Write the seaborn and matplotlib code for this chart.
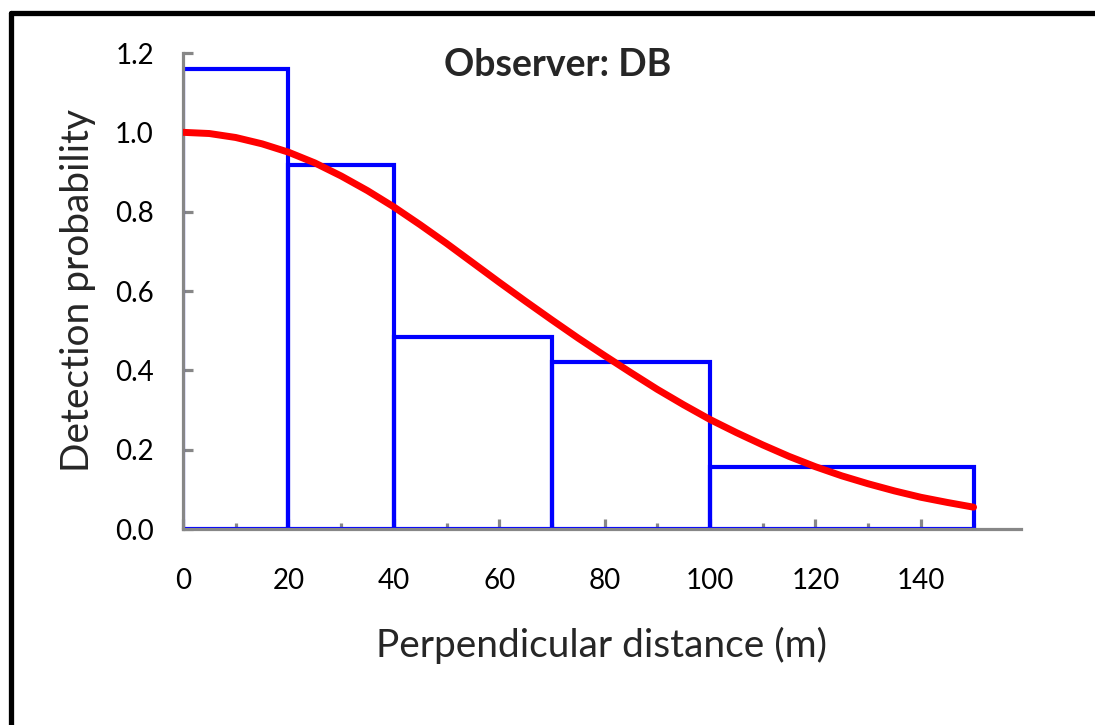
import matplotlib
matplotlib.use("Agg")
import matplotlib.pyplot as plt
import seaborn as sns
import pandas as pd
from matplotlib.lines import Line2D

# Histogram (scaled detection frequencies)
bin_edges = [0, 20, 40, 70, 100, 150]
bin_heights = [1.16, 0.918, 0.484, 0.421, 0.156]

# Fitted detection function
curve_x = [0, 5, 10, 15, 20, 25, 30, 35, 40, 45, 50, 55, 60, 65, 70, 75,
           80, 85, 90, 95, 100, 105, 110, 115, 120, 125, 130, 135, 140, 145, 150]
curve_y = [1.000, 0.997, 0.987, 0.971, 0.950, 0.923, 0.890, 0.853, 0.812,
           0.767, 0.720, 0.671, 0.622, 0.574, 0.527, 0.481, 0.437, 0.394,
           0.352, 0.313, 0.276, 0.243, 0.212, 0.183, 0.157, 0.134, 0.114,
           0.096, 0.080, 0.067, 0.055]

x_ticks = [0, 20, 40, 60, 80, 100, 120, 140]
y_ticks = [0.0, 0.2, 0.4, 0.6, 0.8, 1.0, 1.2]
title = "Observer: DB"
xlabel = "Perpendicular distance (m)"
ylabel = "Detection probability"

sns.set_style("white")
plt.rcParams['font.family'] = ['Lato', 'DejaVu Sans']

fig = plt.figure(figsize=(10.95, 7.25), dpi=100)
ax = fig.add_axes([183/1095, 1-529/725, (1021-183)/1095, (529-53)/725])

mids = [(a + b) / 2 for a, b in zip(bin_edges[:-1], bin_edges[1:])]
hist_df = pd.DataFrame({"mid": mids, "h": bin_heights})
sns.histplot(data=hist_df, x="mid", weights="h", bins=bin_edges, stat="count",
             fill=False, element="bars", color="#0000FF", linewidth=3.0, ax=ax,
             zorder=2)
for p in ax.patches:
    p.set_edgecolor("#0000FF")
    p.set_linewidth(3.0)
    p.set_joinstyle("miter")

curve_df = pd.DataFrame({"x": curve_x, "y": curve_y})
sns.lineplot(data=curve_df, x="x", y="y", color="#FF0000", linewidth=5.0, ax=ax,
             zorder=3)

ax.set_xlim(0, 159)
ax.set_ylim(0, 1.2)
ax.set_xticks(x_ticks)
ax.set_xticks(list(range(10, 160, 20)), minor=True)
ax.set_yticks(y_ticks)
ax.set_yticklabels([f"{v:.1f}" for v in y_ticks])
ax.set_xticklabels([str(v) for v in x_ticks])

gray = "#878787"
for s in ["top", "right"]:
    ax.spines[s].set_visible(False)
for s in ["left", "bottom"]:
    ax.spines[s].set_color(gray)
    ax.spines[s].set_linewidth(2.3)

ax.tick_params(axis="x", which="major", direction="in", length=7, width=2.3,
               color=gray, pad=28, labelsize=20, labelcolor="#000000")
ax.tick_params(axis="x", which="minor", direction="in", length=4, width=2.3,
               color=gray)
ax.tick_params(axis="y", which="major", direction="in", length=7, width=2.3,
               color=gray, pad=21, labelsize=20, labelcolor="#000000", left=True)
ax.tick_params(axis="x", bottom=True, which="both")

ax.set_xlabel(xlabel, fontsize=28, labelpad=24)
ax.set_ylabel(ylabel, fontsize=28, labelpad=14)
ax.text(71, 1.17, title, fontsize=27, fontweight="bold", ha="center", va="center")

# frame lines of the figure (top and left visible)
fig.add_artist(Line2D([10.5/1095, 10.5/1095], [0, 1-12.5/725], color="black",
                      linewidth=3.8, transform=fig.transFigure))
fig.add_artist(Line2D([10.5/1095, 1], [1-12.5/725, 1-12.5/725], color="black",
                      linewidth=3.8, transform=fig.transFigure))

fig.savefig("out.png", dpi=100)
